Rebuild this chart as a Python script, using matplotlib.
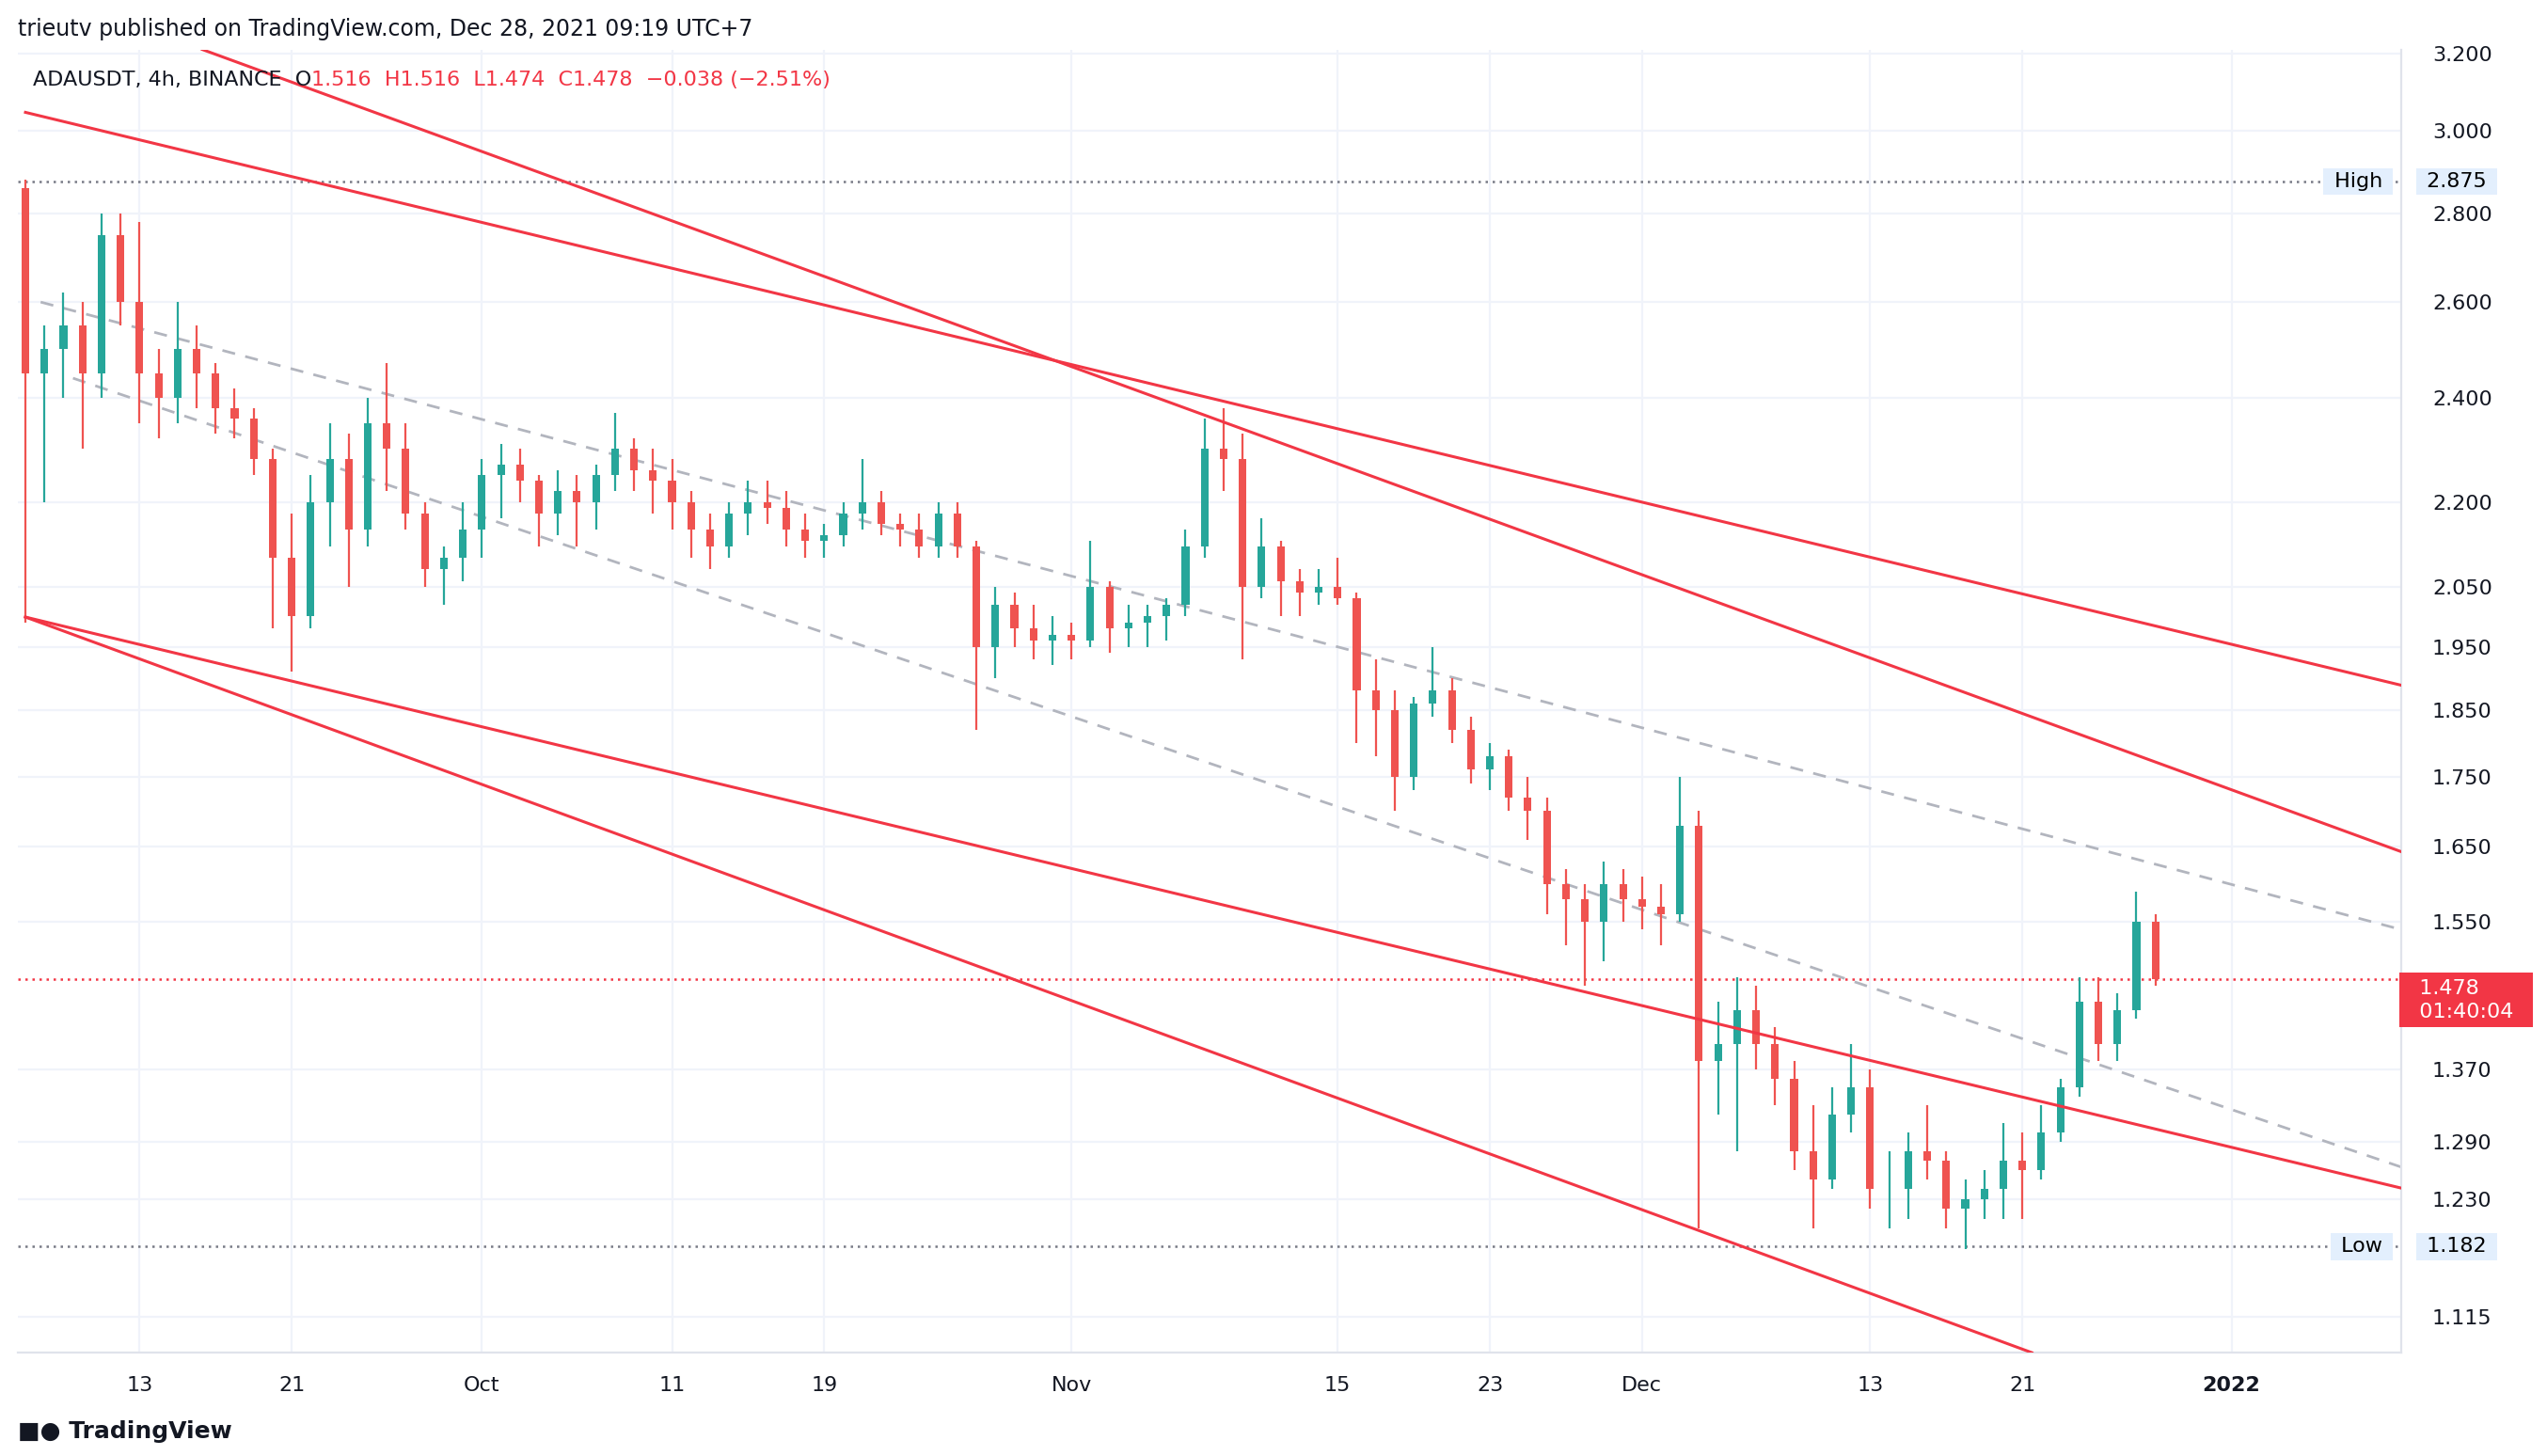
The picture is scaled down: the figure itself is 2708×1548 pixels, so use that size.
import numpy as np
import matplotlib.pyplot as plt
from datetime import date

# daily OHLC, Sep 7 .. Dec 28 2021
opens = [2.86, 2.45, 2.50, 2.55, 2.45, 2.75, 2.60, 2.45, 2.40, 2.50, 2.45, 2.38, 2.36, 2.28, 2.10, 2.00,
         2.20, 2.28, 2.15, 2.35, 2.30, 2.18, 2.08, 2.10, 2.15, 2.25, 2.27, 2.24, 2.18, 2.22, 2.20, 2.25,
         2.30, 2.26, 2.24, 2.20, 2.15, 2.12, 2.18, 2.20, 2.19, 2.15, 2.13, 2.14, 2.18, 2.20, 2.16, 2.15,
         2.12, 2.18, 2.12, 1.95, 2.02, 1.98, 1.96, 1.97, 1.96, 2.05, 1.98, 1.99, 2.00, 2.02, 2.12, 2.30,
         2.28, 2.05, 2.12, 2.06, 2.04, 2.05, 2.03, 1.88, 1.85, 1.75, 1.86, 1.88, 1.82, 1.76, 1.78, 1.72,
         1.70, 1.60, 1.58, 1.55, 1.60, 1.58, 1.57, 1.56, 1.68, 1.38, 1.40, 1.44, 1.40, 1.36, 1.28, 1.25,
         1.32, 1.35, 1.24, 1.24, 1.28, 1.27, 1.22, 1.23, 1.24, 1.27, 1.26, 1.30, 1.35, 1.45, 1.40, 1.44,
         1.55]
highs = [2.88, 2.55, 2.62, 2.60, 2.80, 2.80, 2.78, 2.50, 2.60, 2.55, 2.47, 2.42, 2.38, 2.30, 2.18, 2.25,
         2.35, 2.33, 2.40, 2.47, 2.35, 2.20, 2.12, 2.20, 2.28, 2.31, 2.30, 2.25, 2.26, 2.25, 2.27, 2.37,
         2.32, 2.30, 2.28, 2.22, 2.18, 2.20, 2.24, 2.24, 2.22, 2.18, 2.16, 2.20, 2.28, 2.22, 2.18, 2.18,
         2.20, 2.20, 2.13, 2.05, 2.04, 2.02, 2.00, 1.99, 2.13, 2.06, 2.02, 2.02, 2.03, 2.15, 2.36, 2.38,
         2.33, 2.17, 2.13, 2.08, 2.08, 2.10, 2.04, 1.93, 1.88, 1.87, 1.95, 1.90, 1.84, 1.80, 1.79, 1.75,
         1.72, 1.62, 1.60, 1.63, 1.62, 1.61, 1.60, 1.75, 1.70, 1.45, 1.48, 1.47, 1.42, 1.38, 1.33, 1.35,
         1.40, 1.37, 1.28, 1.30, 1.33, 1.28, 1.25, 1.26, 1.31, 1.30, 1.33, 1.36, 1.48, 1.48, 1.46, 1.59,
         1.56]
lows = [1.99, 2.20, 2.40, 2.30, 2.40, 2.55, 2.35, 2.32, 2.35, 2.38, 2.33, 2.32, 2.25, 1.98, 1.91, 1.98,
        2.12, 2.05, 2.12, 2.22, 2.15, 2.05, 2.02, 2.06, 2.10, 2.17, 2.20, 2.12, 2.14, 2.12, 2.15, 2.22,
        2.22, 2.18, 2.15, 2.10, 2.08, 2.10, 2.14, 2.16, 2.12, 2.10, 2.10, 2.12, 2.15, 2.14, 2.12, 2.10,
        2.10, 2.10, 1.82, 1.90, 1.95, 1.93, 1.92, 1.93, 1.95, 1.94, 1.95, 1.95, 1.96, 2.00, 2.10, 2.22,
        1.93, 2.03, 2.00, 2.00, 2.02, 2.02, 1.80, 1.78, 1.70, 1.73, 1.84, 1.80, 1.74, 1.73, 1.70, 1.66,
        1.56, 1.52, 1.47, 1.50, 1.55, 1.54, 1.52, 1.55, 1.20, 1.32, 1.28, 1.37, 1.33, 1.26, 1.20, 1.24,
        1.30, 1.22, 1.20, 1.21, 1.25, 1.20, 1.18, 1.21, 1.21, 1.21, 1.25, 1.29, 1.34, 1.38, 1.38, 1.43,
        1.47]
closes = opens[1:] + [1.478]

start = date(2021, 9, 7)
tick_dates = [date(2021, 9, 13), date(2021, 9, 21), date(2021, 10, 1), date(2021, 10, 11),
              date(2021, 10, 19), date(2021, 11, 1), date(2021, 11, 15), date(2021, 11, 23),
              date(2021, 12, 1), date(2021, 12, 13), date(2021, 12, 21), date(2022, 1, 1)]
tick_labels = ['13', '21', 'Oct', '11', '19', 'Nov', '15', '23', 'Dec', '13', '21', '2022']
price_ticks = [3.2, 3.0, 2.8, 2.6, 2.4, 2.2, 2.05, 1.95, 1.85, 1.75, 1.65, 1.55, 1.37, 1.29, 1.23, 1.115]

# drawn trend lines: (day, price) endpoints
upper_a = [(0.0, 3.046), (125.4, 1.885)]
upper_b = [(9.3, 3.21), (125.4, 1.639)]
lower_a = [(0.0, 1.999), (125.4, 1.239)]
lower_b = [(0.0, 1.999), (105.5, 1.082)]
mid_a = [(0.8, 2.60), (125.4, 1.537)]
mid_b = [(2.5, 2.44), (125.4, 1.26)]

UP = '#26a69a'
DOWN = '#ef5350'
FS = 8


def day(d):
    return (d - start).days


fig = plt.figure(figsize=(13.54, 7.74), dpi=200)
ax = fig.add_axes([0.007, 0.071, 0.9356, 0.895])
ax.set_yscale('log')
ax.set_xlim(-0.4, 124.9)
ax.set_ylim(1.082, 3.21)

x = np.arange(len(opens))
o, h, l, c = map(np.array, (opens, highs, lows, closes))
col = np.where(c >= o, UP, DOWN)
ax.vlines(x, l, h, colors=col, lw=0.8, zorder=3)
ax.bar(x, np.abs(c - o), bottom=np.minimum(o, c), width=0.4, color=col, zorder=3)

for seg in (upper_a, upper_b, lower_a, lower_b):
    (x0, y0), (x1, y1) = seg
    ax.plot([x0, x1], [y0, y1], color='#f23645', lw=1.1, zorder=4)
for seg in (mid_a, mid_b):
    (x0, y0), (x1, y1) = seg
    ax.plot([x0, x1], [y0, y1], color='#b2b5be', lw=1.0, ls=(0, (5, 4)), zorder=2)

ax.axhline(2.875, color='#787b86', lw=0.9, ls=(0, (1, 2)), zorder=2)
ax.axhline(1.182, color='#787b86', lw=0.9, ls=(0, (1, 2)), zorder=2)
ax.axhline(closes[-1], color='#f23645', lw=0.9, ls=(0, (1, 2)), zorder=2)

ax.set_xticks([day(d) for d in tick_dates])
ax.set_xticklabels(tick_labels, fontsize=FS, color='#131722')
for lab in ax.get_xticklabels():
    if lab.get_text() == '2022':
        lab.set_fontweight('bold')
ax.yaxis.tick_right()
ax.set_yticks(price_ticks)
ax.set_yticklabels(['%.3f' % t for t in price_ticks], fontsize=FS, color='#131722')
ax.yaxis.set_minor_locator(plt.NullLocator())
ax.tick_params(axis='x', length=0, pad=9)
ax.tick_params(axis='y', length=0, pad=12)
ax.grid(True, color='#f0f3fa', lw=0.8, zorder=0)
for s in ('top', 'left'):
    ax.spines[s].set_visible(False)
for s in ('right', 'bottom'):
    ax.spines[s].set_color('#e0e3eb')

# price axis tags
tr = ax.get_yaxis_transform()
tag = dict(fc='#e3effd', ec='none', pad=1.5)
ax.text(1.008, 2.875, ' 2.875 ', transform=tr, fontsize=FS, va='center', bbox=tag, zorder=6)
ax.text(0.995, 2.875, ' High ', transform=tr, fontsize=FS, va='center', ha='right', bbox=tag, zorder=6)
ax.text(1.008, 1.182, ' 1.182 ', transform=tr, fontsize=FS, va='center', bbox=tag, zorder=6)
ax.text(0.995, 1.182, ' Low ', transform=tr, fontsize=FS, va='center', ha='right', bbox=tag, zorder=6)
ax.text(1.002, closes[-1], '  1.478      \n  01:40:04  ', transform=tr, fontsize=FS,
        va='top', color='white', linespacing=1.3, bbox=dict(fc='#f23645', ec='none', pad=2.5), zorder=6)

fig.text(0.007, 0.98, 'trieutv published on TradingView.com, Dec 28, 2021 09:19 UTC+7',
         fontsize=8.5, color='#131722', va='center')
t0 = fig.text(0.013, 0.945, 'ADAUSDT, 4h, BINANCE  O', fontsize=FS, color='#131722', va='center')
ax.annotate('1.516  H1.516  L1.474  C1.478  \u22120.038 (\u22122.51%)', xy=(1, 0.5), xycoords=t0,
            va='center', ha='left', fontsize=FS, color='#f23645', annotation_clip=False)
fig.text(0.007, 0.012, '\u25a0\u25cf TradingView', fontsize=9, color='#131722', fontweight='bold')

fig.savefig('out.png', dpi=200, facecolor='white')
